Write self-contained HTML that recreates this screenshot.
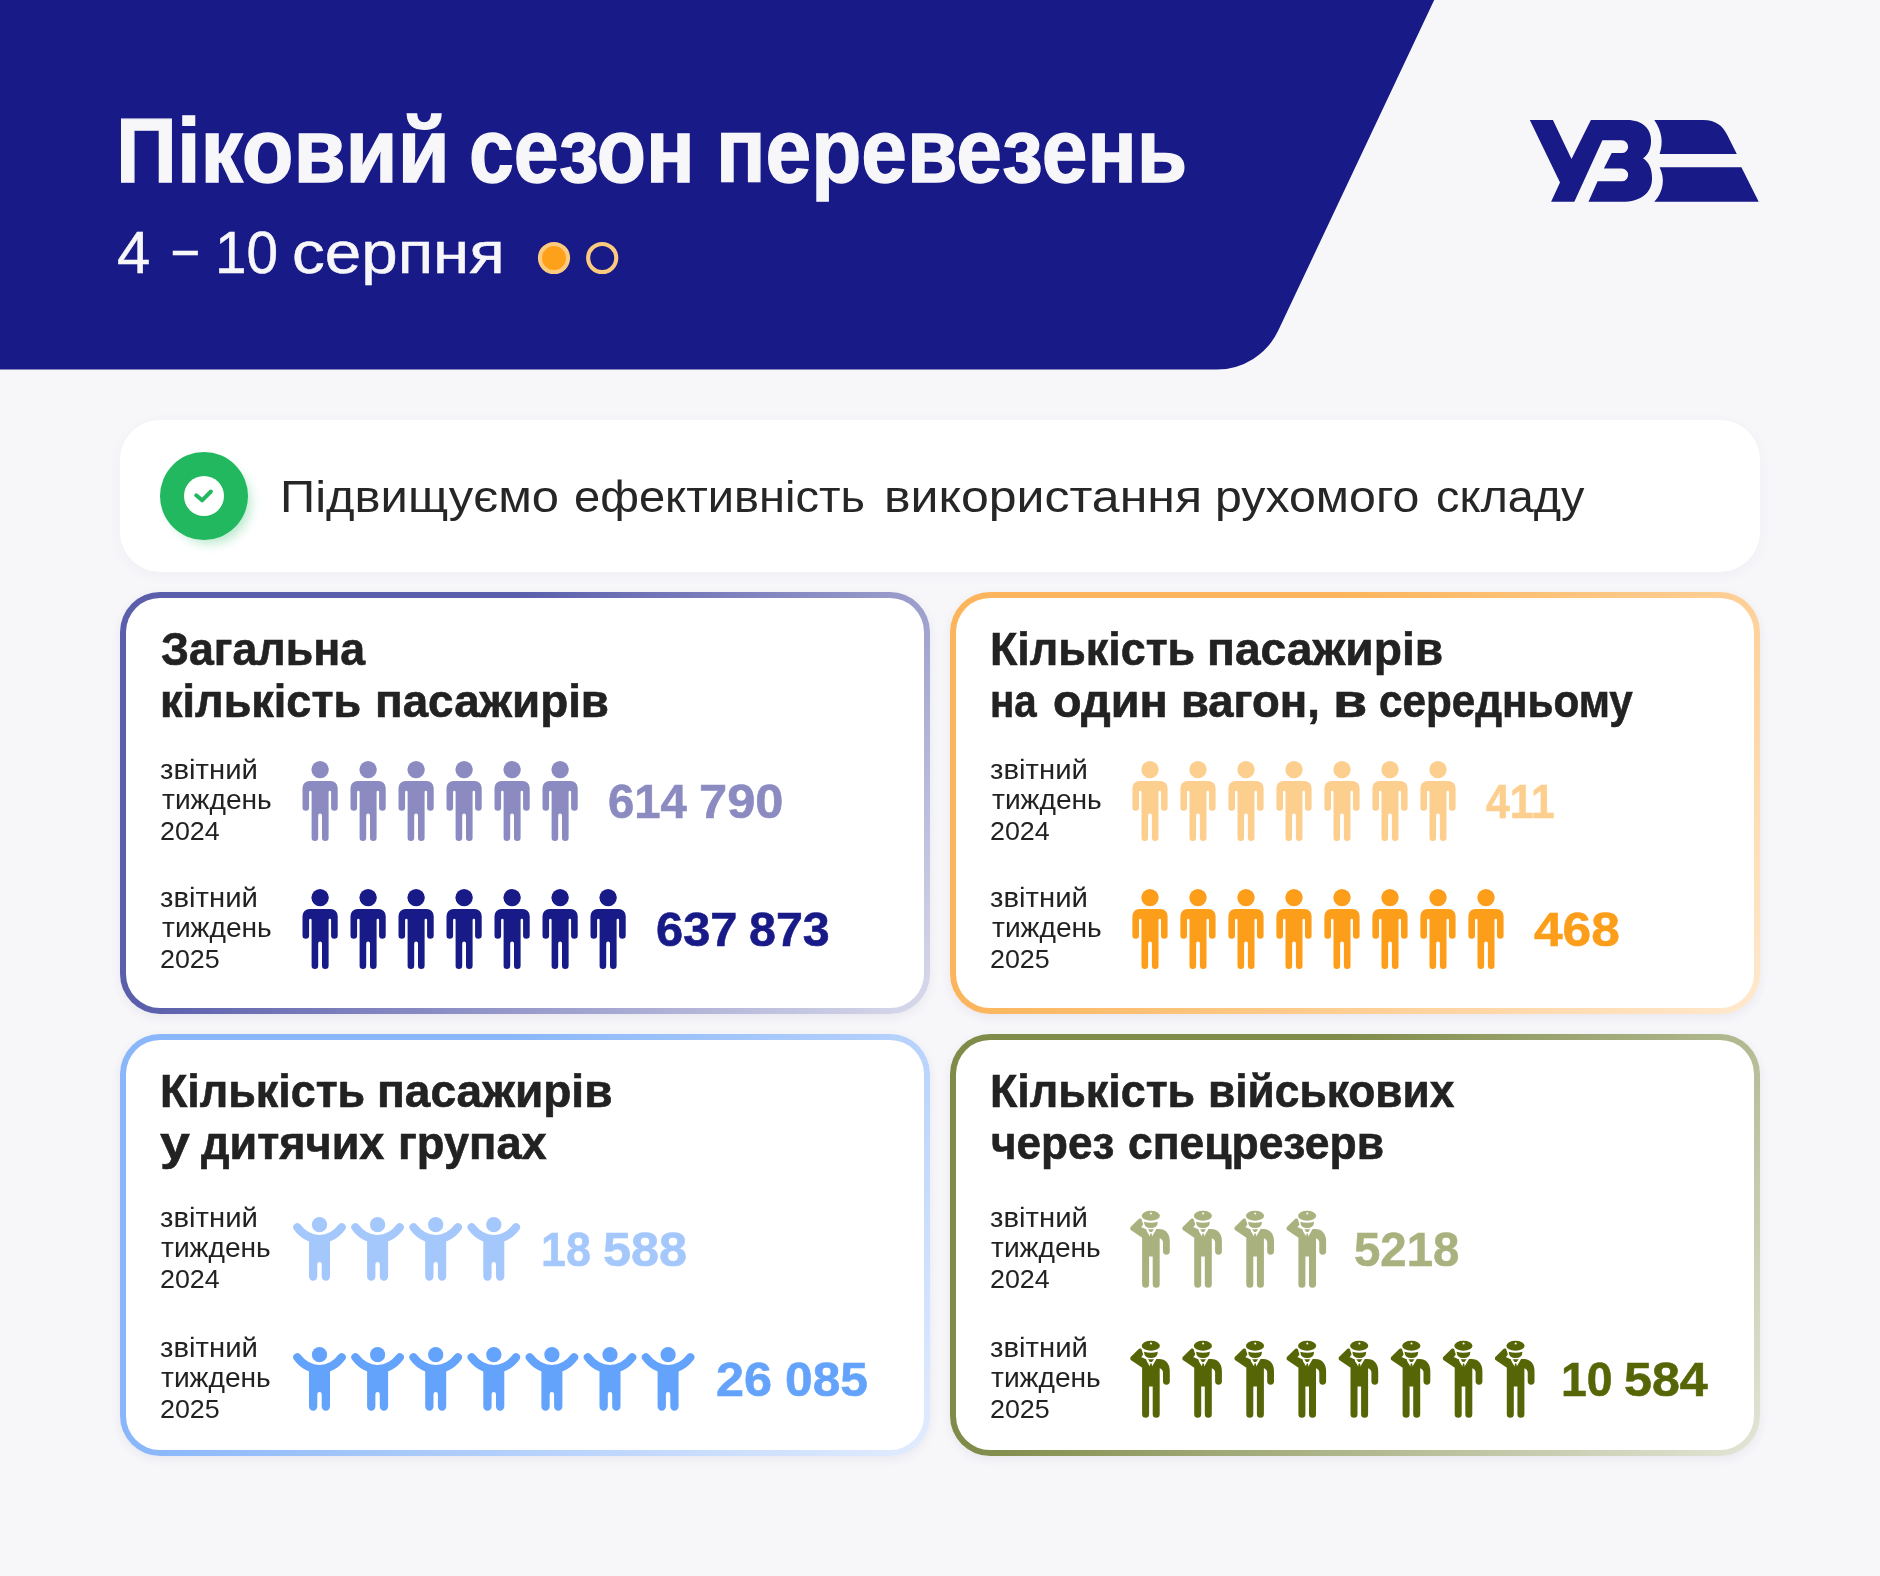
<!DOCTYPE html>
<html lang="uk">
<head>
<meta charset="utf-8">
<title>Піковий сезон перевезень</title>
<style>
html,body{margin:0;padding:0;}
body{width:1880px;height:1576px;position:relative;overflow:hidden;background:#f7f7fa;font-family:"Liberation Sans",sans-serif;color:#222;}
.abs{position:absolute;}
.t{position:absolute;white-space:nowrap;transform-origin:left top;line-height:1;}
.b{font-weight:700;}
#hdr{position:absolute;left:0;top:0;}
.banner{position:absolute;left:120px;top:420px;width:1640px;height:152px;border-radius:40px;background:#fff;box-shadow:0 3px 14px rgba(60,60,110,.045);}
.card{position:absolute;border-radius:40px;padding:6px;box-sizing:border-box;box-shadow:0 3px 10px rgba(70,70,120,.085);}
.card>.in{width:100%;height:100%;background:#fff;border-radius:34px;}
#c1{left:120px;top:592px;width:810px;height:422px;background:linear-gradient(132deg,#5a5eab 0%,#5a5eab 33%,#d9daeb 100%);}
#c2{left:950px;top:592px;width:810px;height:422px;background:linear-gradient(132deg,#fcb55c 0%,#fcb55c 33%,#ffe9cf 100%);}
#c3{left:120px;top:1034px;width:810px;height:422px;background:linear-gradient(132deg,#8ab7fa 0%,#8ab7fa 33%,#e2ecfe 100%);}
#c4{left:950px;top:1034px;width:810px;height:422px;background:linear-gradient(132deg,#7f8b49 0%,#7f8b49 33%,#e3e6d7 100%);}
</style>
</head>
<body>
<svg id="hdr" width="1880" height="380" viewBox="0 0 1880 380">
  <path d="M0,0 H1434.200 L1278.400,330.300 A68.300,68.300 0 0 1 1216.600,369.500 H0 Z" fill="#181a87"/>
</svg>

<svg class="abs" style="left:530px;top:236px" width="100" height="44" viewBox="0 0 100 44">
  <circle cx="24" cy="22" r="14.050" fill="#fda11b" stroke="#fdcb7e" stroke-width="4.100"/>
  <circle cx="72.200" cy="22" r="14.050" fill="none" stroke="#fdcb7e" stroke-width="4.100"/>
</svg>

<svg class="abs" id="logo" style="left:0;top:0" width="1880" height="380" viewBox="0 0 1880 380">
  <g fill="#181a87">
    <path d="M1529.8,120.100 H1552.9 L1571.5,158.900 L1590.9,120.100 H1627 C1643,120.100 1651,129 1651,141 C1651,149 1648,155 1643,158.300 C1649,162 1652,169 1652,178.500 C1652,193 1641,201.800 1622,201.800 H1551.1 L1560,182.400 Z"/>
    <path d="M1654.3,120 H1703 C1716,120 1723,126 1727.4,135.300 L1736.8,153.900 H1659.6 C1663.500,143 1662,131 1654.3,120 Z"/>
    <path d="M1659.6,167.200 H1741.4 L1758.7,201.800 H1654.3 C1664,191 1665,178 1659.600,167.200 Z"/>
  </g>
  <path fill="#f7f7fa" d="M1574.1,202.300 L1602.4,140.300 H1621.800 A6.350,6.350 0 0 1 1621.800,153 H1611.700 L1603.900,168.600 H1621.800 A6.350,6.350 0 0 1 1621.800,181.300 H1597.600 L1588.300,202.300 Z"/>
</svg>

<div class="banner"></div>
<svg class="abs" style="left:150px;top:442px" width="120" height="120" viewBox="0 0 120 120">
  <defs><filter id="gs" x="-50%" y="-50%" width="200%" height="200%"><feGaussianBlur stdDeviation="6"/></filter></defs>
  <circle cx="60" cy="61" r="40" fill="#21b85f" opacity=".35" filter="url(#gs)"/>
  <circle cx="54" cy="54" r="44" fill="#21b85f"/>
  <circle cx="54" cy="54" r="20" fill="#fff"/>
  <path d="M46.200,53.300 L52.100,58.300 L60.900,49.500" fill="none" stroke="#21b85f" stroke-width="4" stroke-linecap="round" stroke-linejoin="round"/>
</svg>

<div class="card" id="c1"><div class="in"></div></div>
<div class="card" id="c2"><div class="in"></div></div>
<div class="card" id="c3"><div class="in"></div></div>
<div class="card" id="c4"><div class="in"></div></div>

<svg width="0" height="0" style="position:absolute">
<defs>
<symbol id="person" overflow="visible"><circle cx="17.6" cy="8.7" r="8.700"/><path d="M7,20.1 H28.2 A7,7 0 0 1 35.2,27.1 V46.5 A3.3,3.3 0 0 1 28.600,46.500 V31 A1.25,1.25 0 0 0 26.100,31 V76.8 A3.3,3.3 0 0 1 19.500,76.8 V54.5 A1.9,1.9 0 0 0 15.700,54.5 V76.8 A3.300,3.3 0 0 1 9.100,76.8 V31 A1.25,1.25 0 0 0 6.600,31 V46.5 A3.3,3.3 0 0 1 0,46.5 V27.1 A7,7 0 0 1 7,20.1 Z"/></symbol>
<symbol id="child" overflow="visible"><circle cx="26.5" cy="7.7" r="7.600"/>
<path d="M4.300,10.300 Q13,22 26.5,22 Q40,22 48.700,10.300" fill="none" stroke="currentColor" stroke-width="8.200" stroke-linecap="round"/>
<path d="M16,20 H37 V59.600 A4.150,4.150 0 0 1 28.700,59.600 V47.200 A2.200,2.200 0 0 0 24.300,47.200 V59.600 A4.150,4.150 0 0 1 16,59.600 Z"/></symbol>
<symbol id="sold" overflow="visible">
<ellipse cx="21.8" cy="5.200" rx="9.100" ry="5.050"/>
<path d="M15,11.200 Q21.900,12.900 28.800,11.200 Q28.600,17.500 21.900,17.500 Q15.200,17.500 15,11.200 Z"/>
<path d="M16.300,18.500 L22,27.600 L27.400,18.500 H30 C36.500,18.500 40.800,23 40.800,30.500 V40.700 A3.400,3.400 0 0 1 34,40.700 V32 Q34,29 30.700,27.600 V73.600 A3.500,3.500 0 0 1 23.700,73.600 V46 H20.100 V73.600 A3.500,3.500 0 0 1 13.100,73.600 V24 Z"/>
<path d="M2.400,17.300 L10.800,8.900 L11.500,9 L13,13.700 L10.600,16.800 L16.400,19.700 L16.800,24.500 L13.100,25.800 L2.400,18.400 Z" stroke="currentColor" stroke-width="2.200" stroke-linejoin="round"/>
<path d="M19,18.700 H25 L22.900,21.400 H20.900 Z"/>
<path d="M21.300,22.800 H22.600 L23.600,27.800 H20.400 Z"/>
<circle cx="22" cy="2.800" r="1" fill="#fff"/>
</symbol>
</defs></svg>
<svg class="abs" style="left:0;top:0" width="1880" height="1576" viewBox="0 0 1880 1576">
<use href="#person" x="302.50" y="760.90" fill="#8b8bc1" color="#8b8bc1"/>
<use href="#person" x="350.50" y="760.90" fill="#8b8bc1" color="#8b8bc1"/>
<use href="#person" x="398.50" y="760.90" fill="#8b8bc1" color="#8b8bc1"/>
<use href="#person" x="446.50" y="760.90" fill="#8b8bc1" color="#8b8bc1"/>
<use href="#person" x="494.50" y="760.90" fill="#8b8bc1" color="#8b8bc1"/>
<use href="#person" x="542.50" y="760.90" fill="#8b8bc1" color="#8b8bc1"/>
<use href="#person" x="302.50" y="888.90" fill="#181a87" color="#181a87"/>
<use href="#person" x="350.50" y="888.90" fill="#181a87" color="#181a87"/>
<use href="#person" x="398.50" y="888.90" fill="#181a87" color="#181a87"/>
<use href="#person" x="446.50" y="888.90" fill="#181a87" color="#181a87"/>
<use href="#person" x="494.50" y="888.90" fill="#181a87" color="#181a87"/>
<use href="#person" x="542.50" y="888.90" fill="#181a87" color="#181a87"/>
<use href="#person" x="590.50" y="888.90" fill="#181a87" color="#181a87"/>
<use href="#person" x="1132.40" y="760.90" fill="#fdcf8e" color="#fdcf8e"/>
<use href="#person" x="1180.40" y="760.90" fill="#fdcf8e" color="#fdcf8e"/>
<use href="#person" x="1228.40" y="760.90" fill="#fdcf8e" color="#fdcf8e"/>
<use href="#person" x="1276.40" y="760.90" fill="#fdcf8e" color="#fdcf8e"/>
<use href="#person" x="1324.40" y="760.90" fill="#fdcf8e" color="#fdcf8e"/>
<use href="#person" x="1372.40" y="760.90" fill="#fdcf8e" color="#fdcf8e"/>
<use href="#person" x="1420.40" y="760.90" fill="#fdcf8e" color="#fdcf8e"/>
<use href="#person" x="1132.40" y="888.90" fill="#fc9e1a" color="#fc9e1a"/>
<use href="#person" x="1180.40" y="888.90" fill="#fc9e1a" color="#fc9e1a"/>
<use href="#person" x="1228.40" y="888.90" fill="#fc9e1a" color="#fc9e1a"/>
<use href="#person" x="1276.40" y="888.90" fill="#fc9e1a" color="#fc9e1a"/>
<use href="#person" x="1324.40" y="888.90" fill="#fc9e1a" color="#fc9e1a"/>
<use href="#person" x="1372.40" y="888.90" fill="#fc9e1a" color="#fc9e1a"/>
<use href="#person" x="1420.40" y="888.90" fill="#fc9e1a" color="#fc9e1a"/>
<use href="#person" x="1468.40" y="888.90" fill="#fc9e1a" color="#fc9e1a"/>
<use href="#child" x="293.00" y="1217.00" fill="#a5c8fc" color="#a5c8fc"/>
<use href="#child" x="351.10" y="1217.00" fill="#a5c8fc" color="#a5c8fc"/>
<use href="#child" x="409.20" y="1217.00" fill="#a5c8fc" color="#a5c8fc"/>
<use href="#child" x="467.30" y="1217.00" fill="#a5c8fc" color="#a5c8fc"/>
<use href="#child" x="293.00" y="1347.00" fill="#64a3fb" color="#64a3fb"/>
<use href="#child" x="351.10" y="1347.00" fill="#64a3fb" color="#64a3fb"/>
<use href="#child" x="409.20" y="1347.00" fill="#64a3fb" color="#64a3fb"/>
<use href="#child" x="467.30" y="1347.00" fill="#64a3fb" color="#64a3fb"/>
<use href="#child" x="525.40" y="1347.00" fill="#64a3fb" color="#64a3fb"/>
<use href="#child" x="583.50" y="1347.00" fill="#64a3fb" color="#64a3fb"/>
<use href="#child" x="641.60" y="1347.00" fill="#64a3fb" color="#64a3fb"/>
<use href="#sold" x="1129.00" y="1210.60" fill="#a9b27e" color="#a9b27e"/>
<use href="#sold" x="1181.10" y="1210.60" fill="#a9b27e" color="#a9b27e"/>
<use href="#sold" x="1233.20" y="1210.60" fill="#a9b27e" color="#a9b27e"/>
<use href="#sold" x="1285.30" y="1210.60" fill="#a9b27e" color="#a9b27e"/>
<use href="#sold" x="1129.00" y="1340.60" fill="#566607" color="#566607"/>
<use href="#sold" x="1181.10" y="1340.60" fill="#566607" color="#566607"/>
<use href="#sold" x="1233.20" y="1340.60" fill="#566607" color="#566607"/>
<use href="#sold" x="1285.30" y="1340.60" fill="#566607" color="#566607"/>
<use href="#sold" x="1337.40" y="1340.60" fill="#566607" color="#566607"/>
<use href="#sold" x="1389.50" y="1340.60" fill="#566607" color="#566607"/>
<use href="#sold" x="1441.60" y="1340.60" fill="#566607" color="#566607"/>
<use href="#sold" x="1493.70" y="1340.60" fill="#566607" color="#566607"/>
</svg>
<div><span class="t b" style="left:115.71px;top:106.00px;font-size:90px;color:#f7f7fa;-webkit-text-stroke:1.4px #f7f7fa;transform:scaleX(0.9415)">Піковий</span> <span class="t b" style="left:468.84px;top:106.00px;font-size:90px;color:#f7f7fa;-webkit-text-stroke:1.4px #f7f7fa;transform:scaleX(0.8956)">сезон</span> <span class="t b" style="left:715.77px;top:106.00px;font-size:90px;color:#f7f7fa;-webkit-text-stroke:1.4px #f7f7fa;transform:scaleX(0.9117)">перевезень</span></div>
<div><span class="t" style="left:116.60px;top:223.13px;font-size:60px;color:#f7f7fa;-webkit-text-stroke:0.5px #f7f7fa;transform:scaleX(0.9968)">4</span> <span class="t" style="left:172.80px;top:217.53px;font-size:60px;color:#f7f7fa;-webkit-text-stroke:0.5px #f7f7fa;transform:scaleX(0.7424)">–</span> <span class="t" style="left:214.97px;top:223.13px;font-size:60px;color:#f7f7fa;-webkit-text-stroke:0.5px #f7f7fa;transform:scaleX(0.9458)">10</span> <span class="t" style="left:292.02px;top:223.13px;font-size:60px;color:#f7f7fa;-webkit-text-stroke:0.5px #f7f7fa;transform:scaleX(1.0920)">серпня</span></div>
<div><span class="t" style="left:279.85px;top:473.95px;font-size:45px;color:#262626;transform:scaleX(1.0873)">Підвищуємо</span> <span class="t" style="left:574.41px;top:473.95px;font-size:45px;color:#262626;transform:scaleX(1.0460)">ефективність</span> <span class="t" style="left:883.77px;top:473.95px;font-size:45px;color:#262626;transform:scaleX(1.1114)">використання</span> <span class="t" style="left:1214.98px;top:473.95px;font-size:45px;color:#262626;transform:scaleX(1.0726)">рухомого</span> <span class="t" style="left:1436.42px;top:473.95px;font-size:45px;color:#262626;transform:scaleX(1.0400)">складу</span></div>
<div><span class="t b" style="left:160.52px;top:626.30px;font-size:46px;color:#222222;-webkit-text-stroke:0.6px #222222;transform:scaleX(0.9719)">Загальна</span></div>
<div><span class="t b" style="left:160.16px;top:678.10px;font-size:46px;color:#222222;-webkit-text-stroke:0.6px #222222;transform:scaleX(0.9787)">кількість</span> <span class="t b" style="left:374.71px;top:678.10px;font-size:46px;color:#222222;-webkit-text-stroke:0.6px #222222;transform:scaleX(0.9952)">пасажирів</span></div>
<div><span class="t b" style="left:989.87px;top:626.30px;font-size:46px;color:#222222;-webkit-text-stroke:0.6px #222222;transform:scaleX(0.9743)">Кількість</span> <span class="t b" style="left:1207.19px;top:626.30px;font-size:46px;color:#222222;-webkit-text-stroke:0.6px #222222;transform:scaleX(1.0043)">пасажирів</span></div>
<div><span class="t b" style="left:990.13px;top:678.00px;font-size:46px;color:#222222;-webkit-text-stroke:0.6px #222222;transform:scaleX(0.8760)">на</span> <span class="t b" style="left:1053.07px;top:678.00px;font-size:46px;color:#222222;-webkit-text-stroke:0.6px #222222;transform:scaleX(1.0175)">один</span> <span class="t b" style="left:1181.13px;top:678.00px;font-size:46px;color:#222222;-webkit-text-stroke:0.6px #222222;transform:scaleX(0.9881)">вагон,</span> <span class="t b" style="left:1333.14px;top:678.00px;font-size:46px;color:#222222;-webkit-text-stroke:0.6px #222222;transform:scaleX(1.2076)">в</span> <span class="t b" style="left:1379.34px;top:678.00px;font-size:46px;color:#222222;-webkit-text-stroke:0.6px #222222;transform:scaleX(0.9177)">середньому</span></div>
<div><span class="t b" style="left:160.17px;top:1068.30px;font-size:46px;color:#222222;-webkit-text-stroke:0.6px #222222;transform:scaleX(0.9743)">Кількість</span> <span class="t b" style="left:377.30px;top:1068.30px;font-size:46px;color:#222222;-webkit-text-stroke:0.6px #222222;transform:scaleX(1.0013)">пасажирів</span></div>
<div><span class="t b" style="left:160.38px;top:1119.90px;font-size:46px;color:#222222;-webkit-text-stroke:0.6px #222222;transform:scaleX(1.1667)">у</span> <span class="t b" style="left:200.79px;top:1119.90px;font-size:46px;color:#222222;-webkit-text-stroke:0.6px #222222;transform:scaleX(0.9781)">дитячих</span> <span class="t b" style="left:397.84px;top:1119.90px;font-size:46px;color:#222222;-webkit-text-stroke:0.6px #222222;transform:scaleX(0.9837)">групах</span></div>
<div><span class="t b" style="left:990.17px;top:1068.30px;font-size:46px;color:#222222;-webkit-text-stroke:0.6px #222222;transform:scaleX(0.9743)">Кількість</span> <span class="t b" style="left:1208.30px;top:1068.30px;font-size:46px;color:#222222;-webkit-text-stroke:0.6px #222222;transform:scaleX(0.9632)">військових</span></div>
<div><span class="t b" style="left:991.17px;top:1119.90px;font-size:46px;color:#222222;-webkit-text-stroke:0.6px #222222;transform:scaleX(0.9570)">через</span> <span class="t b" style="left:1127.86px;top:1119.90px;font-size:46px;color:#222222;-webkit-text-stroke:0.6px #222222;transform:scaleX(0.9656)">спецрезерв</span></div>
<div><span class="t" style="left:160.05px;top:755.76px;font-size:28px;color:#222222;transform:scaleX(1.0467)">звітний</span></div>
<div><span class="t" style="left:161.70px;top:785.76px;font-size:28px;color:#222222;transform:scaleX(1.0056)">тиждень</span></div>
<div><span class="t" style="left:160.07px;top:817.76px;font-size:26px;color:#222222;transform:scaleX(1.0321)">2024</span></div>
<div><span class="t" style="left:160.05px;top:883.96px;font-size:28px;color:#222222;transform:scaleX(1.0467)">звітний</span></div>
<div><span class="t" style="left:161.70px;top:913.96px;font-size:28px;color:#222222;transform:scaleX(1.0056)">тиждень</span></div>
<div><span class="t" style="left:160.07px;top:945.96px;font-size:26px;color:#222222;transform:scaleX(1.0321)">2025</span></div>
<div><span class="t" style="left:989.85px;top:755.76px;font-size:28px;color:#222222;transform:scaleX(1.0467)">звітний</span></div>
<div><span class="t" style="left:991.50px;top:785.76px;font-size:28px;color:#222222;transform:scaleX(1.0056)">тиждень</span></div>
<div><span class="t" style="left:989.87px;top:817.76px;font-size:26px;color:#222222;transform:scaleX(1.0321)">2024</span></div>
<div><span class="t" style="left:989.85px;top:883.96px;font-size:28px;color:#222222;transform:scaleX(1.0467)">звітний</span></div>
<div><span class="t" style="left:991.50px;top:913.96px;font-size:28px;color:#222222;transform:scaleX(1.0056)">тиждень</span></div>
<div><span class="t" style="left:989.87px;top:945.96px;font-size:26px;color:#222222;transform:scaleX(1.0321)">2025</span></div>
<div><span class="t" style="left:159.65px;top:1203.86px;font-size:28px;color:#222222;transform:scaleX(1.0467)">звітний</span></div>
<div><span class="t" style="left:161.30px;top:1233.86px;font-size:28px;color:#222222;transform:scaleX(1.0056)">тиждень</span></div>
<div><span class="t" style="left:159.67px;top:1265.86px;font-size:26px;color:#222222;transform:scaleX(1.0321)">2024</span></div>
<div><span class="t" style="left:159.65px;top:1333.56px;font-size:28px;color:#222222;transform:scaleX(1.0467)">звітний</span></div>
<div><span class="t" style="left:161.30px;top:1363.56px;font-size:28px;color:#222222;transform:scaleX(1.0056)">тиждень</span></div>
<div><span class="t" style="left:159.67px;top:1395.56px;font-size:26px;color:#222222;transform:scaleX(1.0321)">2025</span></div>
<div><span class="t" style="left:989.65px;top:1203.86px;font-size:28px;color:#222222;transform:scaleX(1.0467)">звітний</span></div>
<div><span class="t" style="left:991.30px;top:1233.86px;font-size:28px;color:#222222;transform:scaleX(1.0056)">тиждень</span></div>
<div><span class="t" style="left:989.67px;top:1265.86px;font-size:26px;color:#222222;transform:scaleX(1.0321)">2024</span></div>
<div><span class="t" style="left:989.65px;top:1333.56px;font-size:28px;color:#222222;transform:scaleX(1.0467)">звітний</span></div>
<div><span class="t" style="left:991.30px;top:1363.56px;font-size:28px;color:#222222;transform:scaleX(1.0056)">тиждень</span></div>
<div><span class="t" style="left:989.67px;top:1395.56px;font-size:26px;color:#222222;transform:scaleX(1.0321)">2025</span></div>
<div><span class="t b" style="left:607.86px;top:776.96px;font-size:49px;color:#8b8bc1;-webkit-text-stroke:0.6px #8b8bc1;transform:scaleX(0.9648)">614</span> <span class="t b" style="left:698.54px;top:776.96px;font-size:49px;color:#8b8bc1;-webkit-text-stroke:0.6px #8b8bc1;transform:scaleX(1.0331)">790</span></div>
<div><span class="t b" style="left:655.91px;top:905.26px;font-size:49px;color:#181a87;-webkit-text-stroke:0.6px #181a87;transform:scaleX(0.9962)">637</span> <span class="t b" style="left:748.92px;top:905.26px;font-size:49px;color:#181a87;-webkit-text-stroke:0.6px #181a87;transform:scaleX(0.9873)">873</span></div>
<div><span class="t b" style="left:1486.39px;top:777.26px;font-size:49px;color:#fdcf8e;-webkit-text-stroke:0.6px #fdcf8e;transform:scaleX(0.8698)">411</span></div>
<div><span class="t b" style="left:1534.47px;top:905.26px;font-size:49px;color:#fc9e1a;-webkit-text-stroke:0.6px #fc9e1a;transform:scaleX(1.0490)">468</span></div>
<div><span class="t b" style="left:541.42px;top:1224.96px;font-size:49px;color:#a5c8fc;-webkit-text-stroke:0.6px #a5c8fc;transform:scaleX(0.9170)">18</span> <span class="t b" style="left:603.15px;top:1224.96px;font-size:49px;color:#a5c8fc;-webkit-text-stroke:0.6px #a5c8fc;transform:scaleX(1.0293)">588</span></div>
<div><span class="t b" style="left:715.95px;top:1354.76px;font-size:49px;color:#64a3fb;-webkit-text-stroke:0.6px #64a3fb;transform:scaleX(1.0271)">26</span> <span class="t b" style="left:784.68px;top:1354.76px;font-size:49px;color:#64a3fb;-webkit-text-stroke:0.6px #64a3fb;transform:scaleX(1.0140)">085</span></div>
<div><span class="t b" style="left:1353.56px;top:1224.76px;font-size:49px;color:#a9b27e;-webkit-text-stroke:0.6px #a9b27e;transform:scaleX(0.9659)">5218</span></div>
<div><span class="t b" style="left:1561.45px;top:1354.66px;font-size:49px;color:#566607;-webkit-text-stroke:0.6px #566607;transform:scaleX(0.9456)">10</span> <span class="t b" style="left:1623.66px;top:1354.66px;font-size:49px;color:#566607;-webkit-text-stroke:0.6px #566607;transform:scaleX(1.0239)">584</span></div>
</body>
</html>
